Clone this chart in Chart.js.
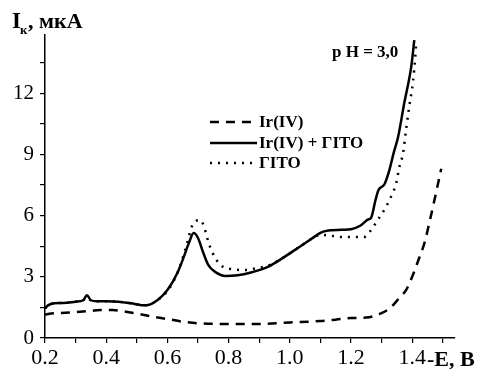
<!DOCTYPE html>
<html>
<head>
<meta charset="utf-8">
<script src="https://cdn.jsdelivr.net/npm/chart.js@4.4.1/dist/chart.umd.min.js"></script>
<style>
  html, body { margin: 0; padding: 0; background: #fff; }
  canvas { display: block; }
</style>
</head>
<body>
<canvas id="myChart" width="487" height="369"></canvas>
<script>
// potential -E, V  and current I, uA
const eIr = [0.2, 0.22, 0.25, 0.3, 0.35, 0.38, 0.42, 0.46, 0.5, 0.55, 0.6, 0.65, 0.7, 0.8, 0.9, 1.0, 1.1, 1.15, 1.2, 1.25, 1.3, 1.33, 1.36, 1.38, 1.4, 1.42, 1.44, 1.46, 1.48, 1.495];
const iIr = [1.15, 1.2, 1.22, 1.27, 1.33, 1.37, 1.37, 1.3, 1.2, 1.05, 0.93, 0.8, 0.72, 0.69, 0.69, 0.76, 0.83, 0.9, 0.98, 1.0, 1.22, 1.5, 2.0, 2.35, 3.0, 3.8, 4.65, 5.9, 7.25, 8.3];

const eMix = [0.2, 0.21, 0.23, 0.26, 0.3, 0.325, 0.337, 0.35, 0.37, 0.4, 0.44, 0.48, 0.53, 0.567, 0.6, 0.633, 0.653, 0.67, 0.686, 0.70, 0.718, 0.734, 0.757, 0.79, 0.83, 0.87, 0.93, 0.98, 1.03, 1.07, 1.1, 1.12, 1.17, 1.2, 1.23, 1.255, 1.266, 1.28, 1.29, 1.31, 1.325, 1.34, 1.354, 1.374, 1.397, 1.407];
const iMix = [1.45, 1.6, 1.7, 1.72, 1.78, 1.85, 2.1, 1.85, 1.8, 1.8, 1.78, 1.7, 1.6, 1.85, 2.35, 3.2, 3.95, 4.65, 5.14, 4.9, 4.15, 3.57, 3.23, 3.04, 3.08, 3.2, 3.5, 3.95, 4.45, 4.85, 5.15, 5.25, 5.3, 5.33, 5.5, 5.8, 5.9, 6.75, 7.25, 7.55, 8.2, 9.1, 9.85, 11.5, 13.3, 14.6];

const eGito = [0.2, 0.21, 0.23, 0.26, 0.3, 0.325, 0.337, 0.35, 0.37, 0.4, 0.44, 0.48, 0.53, 0.567, 0.6, 0.633, 0.66, 0.682, 0.708, 0.725, 0.734, 0.747, 0.757, 0.78, 0.807, 0.85, 0.895, 0.93, 0.98, 1.03, 1.07, 1.1, 1.12, 1.17, 1.2, 1.243, 1.266, 1.288, 1.308, 1.33, 1.348, 1.357, 1.37, 1.38, 1.39, 1.403, 1.41, 1.413];
const iGito = [1.45, 1.6, 1.7, 1.72, 1.78, 1.85, 2.0, 1.85, 1.8, 1.8, 1.78, 1.7, 1.6, 1.85, 2.3, 3.2, 4.4, 5.53, 5.78, 5.2, 4.7, 4.2, 3.9, 3.5, 3.38, 3.33, 3.43, 3.55, 3.95, 4.45, 4.85, 5.05, 5.04, 4.95, 4.95, 4.95, 5.3, 5.8, 6.25, 6.9, 7.6, 8.3, 9.05, 10.2, 11.3, 12.6, 13.75, 14.4];

const seriesNames = ['Ir(IV)', 'Ir(IV) + ГITO', 'ГITO'];
const xLabels = [0.2, 0.4, 0.6, 0.8, 1.0, 1.2, 1.4];
const yLabels = [0, 3, 6, 9, 12];

const serif = '"Liberation Serif", "DejaVu Serif", serif';

function pairs(xs, ys) {
  return xs.map((x, i) => ({ x: x, y: ys[i] }));
}

// annotations: axis titles, pH note and the legend inside the plot
const extras = {
  id: 'extras',
  afterDraw(chart) {
    const ctx = chart.ctx;
    ctx.save();
    ctx.fillStyle = '#000';
    ctx.textBaseline = 'alphabetic';
    ctx.textAlign = 'left';

    ctx.font = 'bold 23px ' + serif;
    ctx.fillText('I', 12, 28);
    ctx.font = 'bold 13px ' + serif;
    ctx.fillText('к', 20, 34);
    ctx.font = 'bold 22px ' + serif;
    ctx.fillText(', мкА', 28, 28);

    ctx.font = 'bold 22px ' + serif;
    ctx.fillText('-E, B', 427, 366);

    ctx.font = 'bold 17px ' + serif;
    ctx.fillText('p H = 3,0', 332, 57);

    const dashes = [[9, 7], [], [2, 6]];
    const rows = [122, 143, 163];
    ctx.font = 'bold 17px ' + serif;
    ctx.textBaseline = 'middle';
    chart.data.datasets.forEach((ds, k) => {
      ctx.beginPath();
      ctx.setLineDash(dashes[k]);
      ctx.lineWidth = 2.5;
      ctx.strokeStyle = '#000';
      ctx.moveTo(210, rows[k]);
      ctx.lineTo(257, rows[k]);
      ctx.stroke();
      ctx.fillText(ds.label, 259, rows[k] + 1);
    });
    ctx.restore();
  }
};

const ctx = document.getElementById('myChart').getContext('2d');
const myChart = new Chart(ctx, {
  type: 'line',
  data: {
    datasets: [
      {
        label: seriesNames[0],
        data: pairs(eIr, iIr),
        borderColor: '#000',
        borderWidth: 2.5,
        borderDash: [9, 7],
        pointRadius: 0,
        fill: false
      },
      {
        label: seriesNames[1],
        data: pairs(eMix, iMix),
        borderColor: '#000',
        borderWidth: 2.5,
        pointRadius: 0,
        fill: false
      },
      {
        label: seriesNames[2],
        data: pairs(eGito, iGito),
        borderColor: '#000',
        borderWidth: 2.5,
        borderDash: [2, 6],
        pointRadius: 0,
        fill: false
      }
    ]
  },
  options: {
    responsive: false,
    animation: false,
    layout: { padding: { top: 35, right: 32, left: 0, bottom: 0 } },
    elements: { line: { cubicInterpolationMode: 'monotone' } },
    plugins: {
      legend: { display: false },
      tooltip: { enabled: false }
    },
    scales: {
      x: {
        type: 'linear',
        min: 0.2,
        max: 1.54,
        afterFit: (s) => { s.height = 31; },
        border: { display: true, color: '#000', width: 1.5 },
        grid: { drawOnChartArea: false, drawTicks: true, tickLength: 5, color: '#000', lineWidth: 1.2 },
        ticks: {
          stepSize: 0.1,
          includeBounds: false,
          autoSkip: false,
          maxRotation: 0,
          padding: 2,
          color: '#000',
          font: { family: serif, size: 22 },
          callback: (v) => {
            const hit = xLabels.find(t => Math.abs(t - v) < 1e-6);
            return hit === undefined ? '' : hit.toFixed(1);
          }
        }
      },
      y: {
        type: 'linear',
        min: 0,
        max: 14.85,
        afterFit: (s) => { s.width = 45; },
        border: { display: true, color: '#000', width: 1.5 },
        grid: { drawOnChartArea: false, drawTicks: true, tickLength: 5, color: '#000', lineWidth: 1.2 },
        ticks: {
          stepSize: 1.5,
          includeBounds: false,
          autoSkip: false,
          padding: 6,
          color: '#000',
          font: { family: serif, size: 21 },
          callback: (v) => {
            const hit = yLabels.find(t => Math.abs(t - v) < 1e-6);
            return hit === undefined ? '' : String(hit);
          }
        }
      }
    }
  },
  plugins: [extras]
});
</script>
</body>
</html>
